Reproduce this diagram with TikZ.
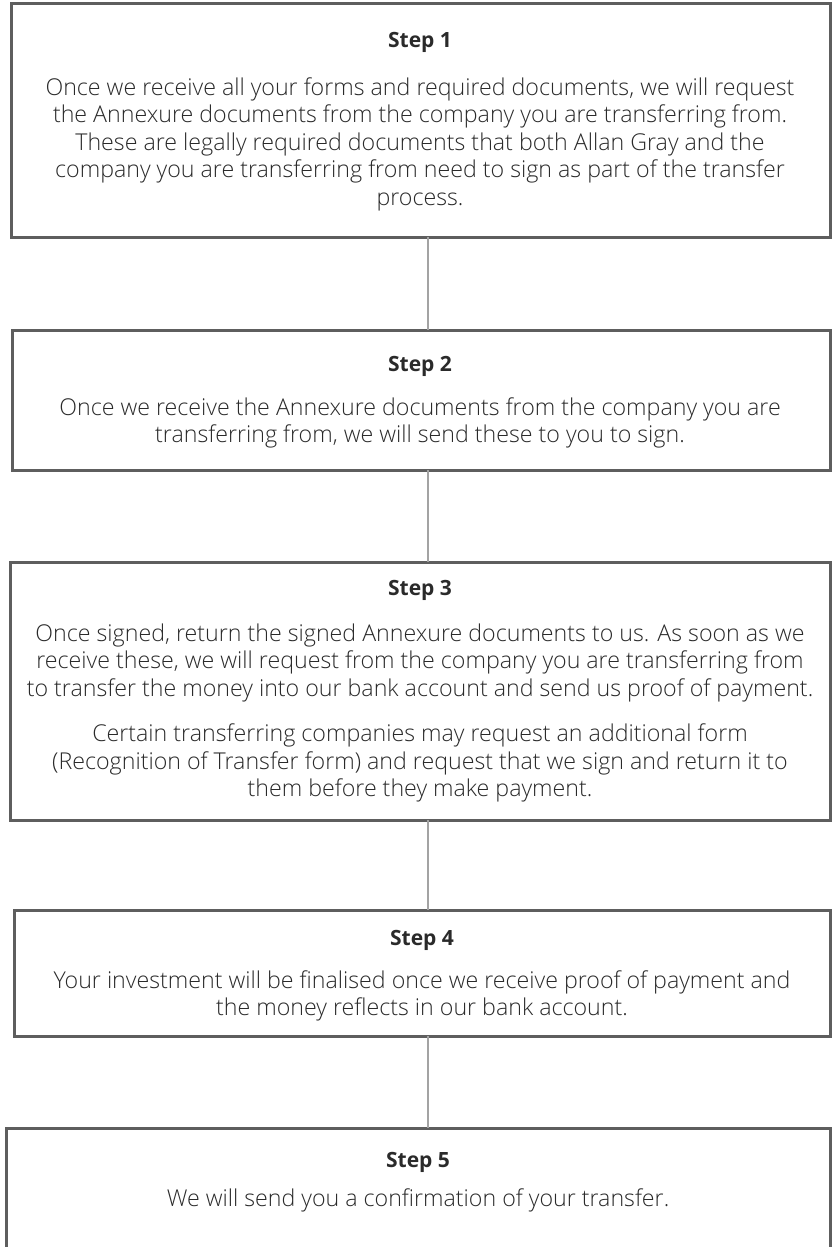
\documentclass[tikz,border=0pt]{standalone}
\usepackage{fontspec}
\setmainfont{Open Sans}[UprightFont={* Light}, BoldFont={* Bold}]
\begin{document}
\begin{tikzpicture}[x=1pt,y=-1pt,
  stepbox/.style={draw=boxgray, line width=3pt, fill=white, anchor=north west, inner sep=0pt, outer sep=0pt},
  steptitle/.style={text=txtgray, font=\fontsize{21}{27}\selectfont\bfseries, inner sep=0pt},
  stepbody/.style={text=txtgray, font=\fontsize{23.2}{27.5}\selectfont, align=center, inner sep=0pt},
  conn/.style={draw=linegray, line width=1.4pt}]
\definecolor{boxgray}{HTML}{5E5E5E}
\definecolor{txtgray}{HTML}{2A2A2A}
\definecolor{linegray}{HTML}{A3A3A3}
\useasboundingbox (0,0) rectangle (832,1247);
\coordinate (spine) at (428,0);
% boxes
\node[stepbox, minimum width=819pt, minimum height=233pt] (b1) at (11,4) {};
\node[stepbox, minimum width=818pt, minimum height=140pt] (b2) at (12,330) {};
\node[stepbox, minimum width=820pt, minimum height=258pt] (b3) at (10,562) {};
\node[stepbox, minimum width=816pt, minimum height=126pt] (b4) at (14,910) {};
\node[stepbox, minimum width=824pt, minimum height=140pt] (b5) at (6,1128) {};
% connectors
\draw[conn] (b1.south -| spine) -- (b2.north -| spine);
\draw[conn] (b2.south -| spine) -- (b3.north -| spine);
\draw[conn] (b3.south -| spine) -- (b4.north -| spine);
\draw[conn] (b4.south -| spine) -- (b5.north -| spine);
% texts
\node[steptitle] (t1) at (420,42) {Step 1};
\node[stepbody] (p1) at (420,144) {Once we receive all your forms and required documents, we will request\\
the Annexure documents from the company you are transferring from.\\
These are legally required documents that both Allan Gray and the\\
company you are transferring from need to sign as part of the transfer\\
process.};
\node[steptitle] (t2) at (420,366) {Step 2};
\node[stepbody] (p2) at (420,423) {Once we receive the Annexure documents from the company you are\\
transferring from, we will send these to you to sign.};
\node[steptitle] (t3) at (420,590) {Step 3};
\node[stepbody] (p3) at (420,713) {Once signed, return the signed Annexure documents to us. As soon as we\\
receive these, we will request from the company you are transferring from\\
to transfer the money into our bank account and send us proof of payment.\\[18pt]
Certain transferring companies may request an additional form\\
(Recognition of Transfer form) and request that we sign and return it to\\
them before they make payment.};
\node[steptitle] (t4) at (422,940) {Step 4};
\node[stepbody] (p4) at (422,996) {Your investment will be finalised once we receive proof of payment and\\
the money reflects in our bank account.};
\node[steptitle] (t5) at (418,1162) {Step 5};
\node[stepbody] (p5) at (418,1200) {We will send you a confirmation of your transfer.};
\end{tikzpicture}
\end{document}
